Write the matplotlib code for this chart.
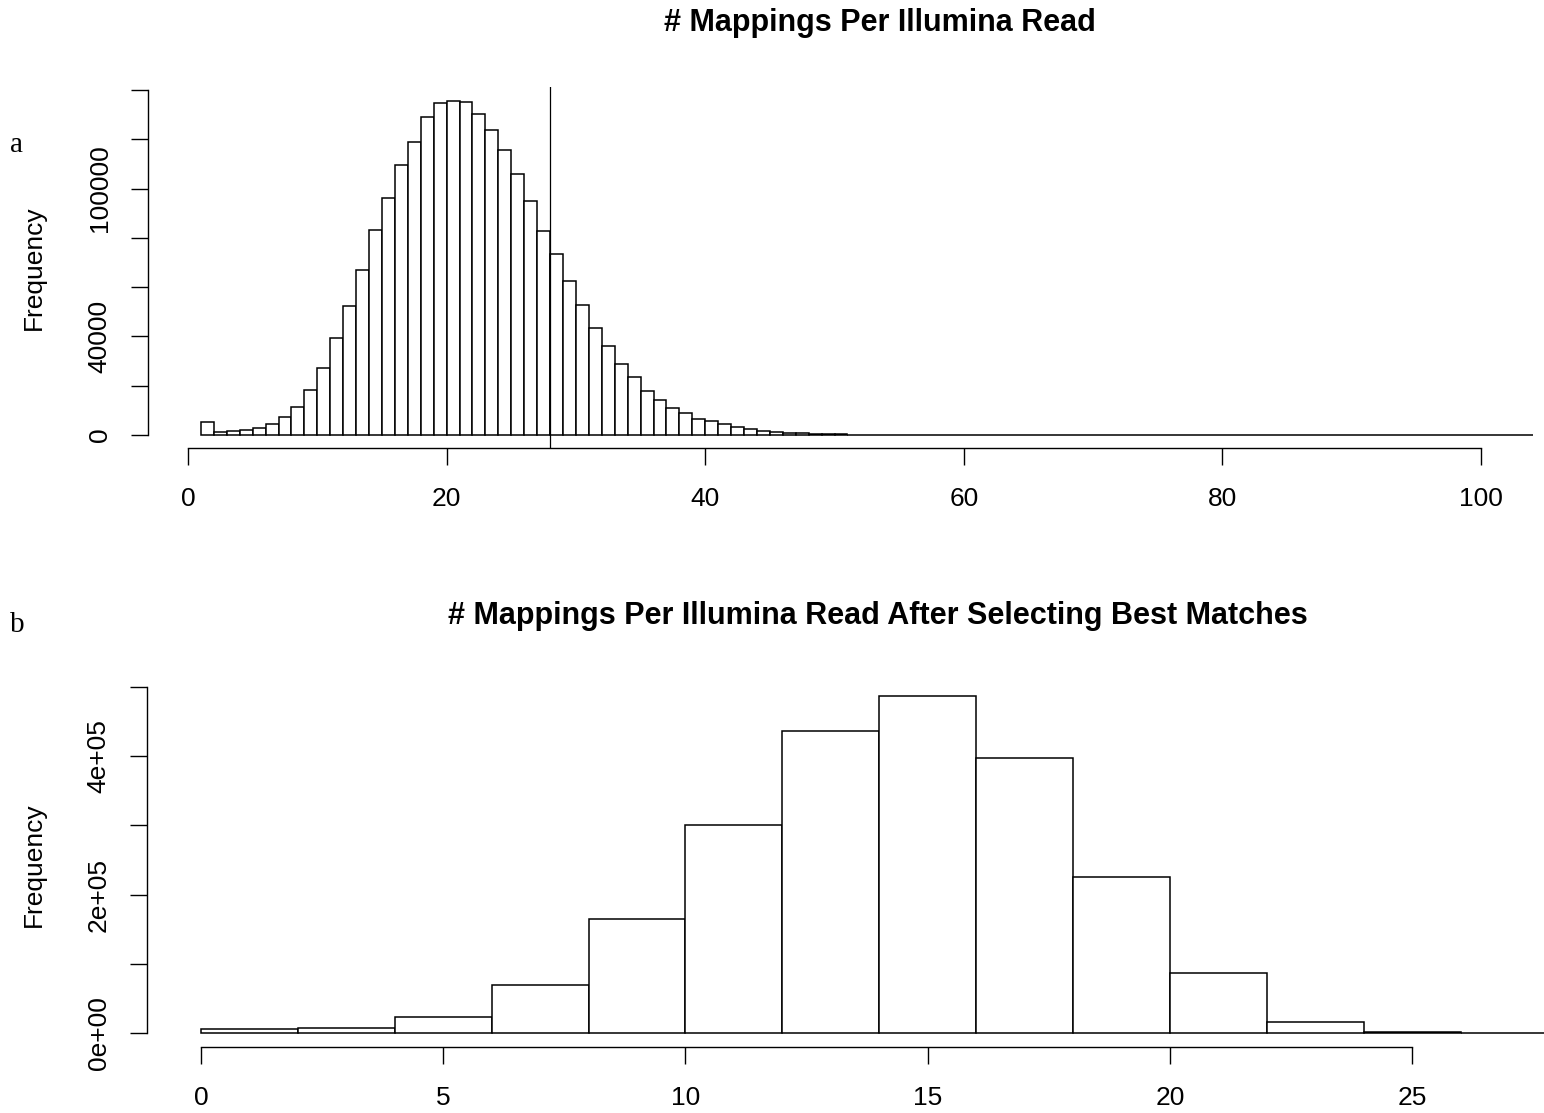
import numpy as np
import matplotlib
matplotlib.use("Agg")
import matplotlib.pyplot as plt

# counts per read, one-wide bins starting at 1
top_start = 1
top_width = 1
top_counts = [
    5400, 1350, 1620, 2030, 2700, 4330, 7440, 11490, 18390, 27310,
    39210, 52460, 66790, 83150, 96260, 109510, 118980, 128980, 134660, 135610,
    135200, 130330, 123570, 115730, 105860, 94780, 82740, 73280, 62600, 52730,
    43530, 36230, 28930, 23660, 17850, 14060, 10950, 8790, 6620, 5540,
    4330, 3110, 2300, 1760, 1350, 950, 680, 540, 400,
    260, 210, 170, 140, 110, 90, 75, 60, 50, 42,
    35, 30, 25, 21, 18, 15, 13, 11, 9, 8,
    7, 6, 5, 5, 4, 4, 3, 3, 3, 2,
    2, 2, 2, 1, 1, 1, 1, 1, 1, 1,
    1, 1, 1, 1, 1, 1, 0, 1, 0, 0,
    1, 0, 0, 1,
]
top_cutoff = 28
top_xticks = [0, 20, 40, 60, 80, 100]
top_yticks = [0, 20000, 40000, 60000, 80000, 100000, 120000, 140000]
top_ylabels = ["0", "", "40000", "", "", "100000", "", ""]

# counts after best-match selection, two-wide bins starting at 0
bot_start = 0
bot_width = 2
bot_counts = [5770, 7210, 24040, 69700, 164900, 301000, 436100,
              486100, 397100, 226000, 86500, 16800, 2400, 1000]
bot_xticks = [0, 5, 10, 15, 20, 25]
bot_yticks = [0, 100000, 200000, 300000, 400000, 500000]
bot_ylabels = ["0e+00", "", "2e+05", "", "4e+05", ""]

W, H = 1544, 1113
plt.rcParams["font.family"] = ["Liberation Sans", "DejaVu Sans"]

fig = plt.figure(figsize=(W / 100, H / 100), dpi=100, facecolor="white")


def px_axes(left, top, right, bottom):
    return fig.add_axes([left / W, 1 - bottom / H, (right - left) / W, (bottom - top) / H])


def r_hist(ax, start, width, counts, xticks, yticks, ylabels):
    counts = np.asarray(counts, dtype=float)
    edges = start + width * np.arange(len(counts) + 1)
    ax.bar(edges[:-1], counts, width=width, align="edge",
           facecolor="white", edgecolor="black", linewidth=1.1)
    for s in ("top", "right"):
        ax.spines[s].set_visible(False)
    ax.spines["left"].set_bounds(yticks[0], yticks[-1])
    ax.spines["bottom"].set_bounds(xticks[0], xticks[-1])
    ax.spines["left"].set_linewidth(1.0)
    ax.spines["bottom"].set_linewidth(1.0)
    ax.set_xticks(xticks)
    ax.set_yticks(yticks)
    ax.set_yticklabels(ylabels, rotation=90, va="center")
    ax.tick_params(axis="both", length=12, width=1.0, labelsize=19, direction="out")
    ax.tick_params(axis="x", pad=16)
    ax.tick_params(axis="y", pad=14)
    ax.set_ylabel("Frequency", fontsize=19, va="center")
    return edges


# top panel
ax1 = px_axes(147.7, 87.4, 1544, 448.4)
r_hist(ax1, top_start, top_width, top_counts, top_xticks, top_yticks, top_ylabels)
peak = max(top_counts)
ax1.set_xlim(top_start - 0.04 * (len(top_counts) * top_width), (1544 - 188) / 12.93)
ax1.set_ylim(-0.04 * peak, 1.04 * peak)
ax1.axvline(top_cutoff, color="black", linewidth=0.9)
ax1.yaxis.set_label_coords((34 - 147.7) / (1544 - 147.7), 0.5)

# bottom panel
ax2 = px_axes(146.7, 682.8, 1544, 1046.8)
r_hist(ax2, bot_start, bot_width, bot_counts, bot_xticks, bot_yticks, bot_ylabels)
peak2 = max(bot_counts)
span2 = len(bot_counts) * bot_width
ax2.set_xlim(bot_start - 0.04 * span2, (1544 - 201) / 48.45)
ax2.set_ylim(-0.04 * peak2, 1.04 * peak2)
ax2.yaxis.set_label_coords((34 - 146.7) / (1544 - 146.7), 0.5)

fig.text(880 / W, 1 - 23 / H, "# Mappings Per Illumina Read",
         ha="center", va="center", fontsize=22, fontweight="bold")
fig.text(878 / W, 1 - 616 / H, "# Mappings Per Illumina Read After Selecting Best Matches",
         ha="center", va="center", fontsize=22, fontweight="bold")

fig.text(10 / W, 1 - 152 / H, "a", ha="left", va="baseline", fontsize=21,
         family=["Liberation Serif", "DejaVu Serif"])
fig.text(10 / W, 1 - 632 / H, "b", ha="left", va="baseline", fontsize=21,
         family=["Liberation Serif", "DejaVu Serif"])

fig.savefig("out.png", dpi=100, facecolor="white")
